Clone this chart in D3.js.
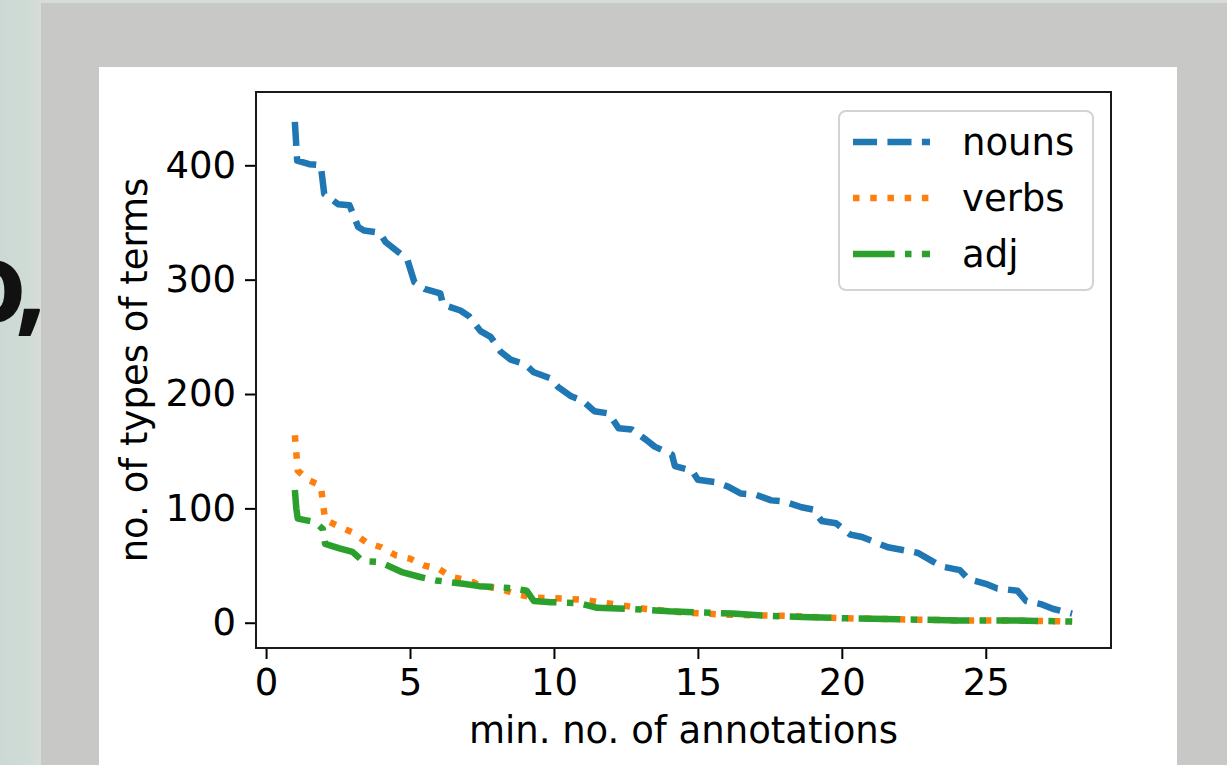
<!DOCTYPE html>
<html>
<head>
<meta charset="utf-8">
<script src="https://cdn.jsdelivr.net/npm/d3@7"></script>
<style>
  html, body { margin: 0; padding: 0; background: #c8c9c7; }
  svg { display: block; }
  text { font-family: "DejaVu Sans", sans-serif; }
</style>
</head>
<body>
<svg id="chart" width="1227" height="765"></svg>
<script>
// ------- Data -------
// each point: [min. no. of annotations, no. of types of terms]
const nounsPts = [
  [1.0, 438], [1.08, 404], [1.5, 401], [1.9, 400], [2.02, 375], [2.5, 366],
  [2.9, 365], [3.2, 346], [3.4, 343], [3.95, 341], [4.15, 333], [4.6, 324],
  [4.9, 318], [5.15, 298], [5.5, 292], [6.05, 288], [6.15, 278], [6.75, 273],
  [7.05, 268], [7.45, 255], [7.8, 250], [8.15, 237], [8.5, 230], [9.0, 226],
  [9.3, 219], [9.85, 214], [10.15, 206], [10.6, 198], [11.0, 194], [11.4, 185],
  [11.9, 183], [12.25, 170], [12.7, 169], [13.2, 160], [13.5, 154], [14.1, 147],
  [14.2, 137], [14.8, 133], [15.0, 125], [15.6, 123], [16.05, 119], [16.5, 113],
  [17.0, 112], [17.55, 107], [18.0, 106], [18.6, 101], [19.0, 99], [19.3, 89],
  [19.8, 87], [20.3, 77], [20.7, 75], [21.3, 69], [21.6, 66], [22.25, 63],
  [22.65, 61], [23.2, 53], [23.5, 49], [24.1, 46], [24.4, 38], [25.0, 34],
  [25.4, 30], [26.1, 28], [26.4, 19], [26.95, 16], [27.35, 12], [28.0, 8]
];

const verbsPts = [
  [1.0, 164], [1.1, 133], [1.45, 125], [1.9, 120], [2.05, 90], [2.55, 84],
  [3.0, 79], [3.5, 70], [4.0, 66], [4.5, 59], [5.0, 56], [5.5, 50],
  [6.0, 47], [6.45, 40], [7.05, 37], [7.5, 32], [8.1, 30], [8.7, 25],
  [9.3, 22], [10.4, 21], [11.0, 20], [11.6, 18], [12.4, 15], [13.2, 12],
  [14.5, 9], [16.0, 7], [18.0, 6], [20.0, 4], [22.0, 3], [24.0, 2],
  [26.0, 2], [28.0, 1]
];

const adjPts = [
  [1.0, 116], [1.05, 100], [1.1, 91], [1.7, 88], [1.97, 82], [2.05, 69],
  [2.55, 65], [3.0, 62], [3.35, 54], [3.95, 53], [4.75, 44], [5.35, 40],
  [5.9, 37], [6.85, 34], [7.4, 32], [8.1, 31], [8.6, 30], [9.05, 28],
  [9.3, 19], [9.9, 18], [10.9, 17], [11.5, 13], [12.75, 12], [14.0, 10],
  [15.1, 9], [16.2, 8], [17.5, 6], [18.6, 5], [20.0, 4], [22.0, 3],
  [24.0, 2], [26.0, 2], [28.0, 1]
];

const seriesNames = ["nouns", "verbs", "adj"];
const xTicks = [0, 5, 10, 15, 20, 25];
const yTicks = [0, 100, 200, 300, 400];

// ------- Layout -------
const W = 1227, H = 765;
const plot = { left: 256, right: 1111, top: 92, bottom: 648 };
const fontSize = 37;
const lw = 6.5;

const svg = d3.select("#chart");

// screenshot surroundings
const defs = svg.append("defs");
const grad = defs.append("linearGradient").attr("id", "strip")
  .attr("x1", "0%").attr("x2", "100%");
grad.append("stop").attr("offset", "0%").attr("stop-color", "#cbd9d4");
grad.append("stop").attr("offset", "70%").attr("stop-color", "#d0dbd6");
grad.append("stop").attr("offset", "100%").attr("stop-color", "#d8ddd8");

svg.append("rect").attr("width", W).attr("height", H).attr("fill", "#c8c9c7");
svg.append("rect").attr("width", W).attr("height", 3).attr("fill", "#d6dcd8");
svg.append("rect").attr("width", 41).attr("height", H).attr("fill", "url(#strip)");

// cut-off slide text at the left edge (one text element)
const slideText = svg.append("text")
  .attr("x", -43).attr("y", 322)
  .style("font-family", "'Noto Sans', sans-serif")
  .style("font-weight", "bold")
  .style("font-size", "112px")
  .attr("fill", "#111");
slideText.append("tspan").text("o");
slideText.append("tspan").attr("dx", -12).text(",");

// white figure panel
svg.append("rect")
  .attr("x", 99).attr("y", 67)
  .attr("width", 1177 - 99).attr("height", H - 67)
  .attr("fill", "#ffffff");

// ------- Scales -------
const x = d3.scaleLinear().domain([-0.35, 29.35]).range([plot.left, plot.right]);
const y = d3.scaleLinear().domain([-22.1, 464.1]).range([plot.bottom, plot.top]);

const g = svg.append("g");

// ------- Lines -------
const line = d3.line().x((d) => x(d[0])).y((d) => y(d[1]));

const styles = {
  nouns: { color: "#1f77b4", dash: [3.7 * lw, 1.6 * lw] },
  verbs: { color: "#ff7f0e", dash: [1 * lw, 1.65 * lw] },
  adj: { color: "#2ca02c", dash: [6.4 * lw, 1.6 * lw, 1 * lw, 1.6 * lw] },
};
const seriesData = { nouns: nounsPts, verbs: verbsPts, adj: adjPts };

seriesNames.forEach((name) => {
  g.append("path")
    .datum(seriesData[name])
    .attr("d", line)
    .attr("fill", "none")
    .attr("stroke", styles[name].color)
    .attr("stroke-width", lw)
    .attr("stroke-linejoin", "round")
    .attr("stroke-linecap", "butt")
    .attr("stroke-dasharray", styles[name].dash.join(","));
});

// ------- Axes -------
const xAxis = d3.axisBottom(x).tickValues(xTicks).tickSize(11).tickPadding(10).tickSizeOuter(0);
const yAxis = d3.axisLeft(y).tickValues(yTicks).tickSize(11).tickPadding(9).tickSizeOuter(0);

const xAxisG = svg.append("g")
  .attr("transform", `translate(0,${plot.bottom})`)
  .call(xAxis);
const yAxisG = svg.append("g")
  .attr("transform", `translate(${plot.left},0)`)
  .call(yAxis);

[xAxisG, yAxisG].forEach((ax) => {
  ax.select(".domain").remove();
  ax.selectAll(".tick line").attr("stroke", "#000").attr("stroke-width", 2);
  ax.selectAll(".tick text")
    .attr("fill", "#000")
    .style("font-size", fontSize + "px")
    .style("font-family", "'DejaVu Sans', sans-serif");
});

// frame
svg.append("rect")
  .attr("x", plot.left).attr("y", plot.top)
  .attr("width", plot.right - plot.left)
  .attr("height", plot.bottom - plot.top)
  .attr("fill", "none")
  .attr("stroke", "#1a1a1a")
  .attr("stroke-width", 2);

// axis labels
svg.append("text")
  .attr("x", (plot.left + plot.right) / 2)
  .attr("y", 743)
  .attr("text-anchor", "middle")
  .style("font-size", fontSize + "px")
  .attr("fill", "#000")
  .text("min. no. of annotations");

svg.append("text")
  .attr("transform", `translate(147,${(plot.top + plot.bottom) / 2}) rotate(-90)`)
  .attr("text-anchor", "middle")
  .style("font-size", fontSize + "px")
  .attr("fill", "#000")
  .text("no. of types of terms");

// ------- Legend -------
const legend = svg.append("g");
legend.append("rect")
  .attr("x", 839).attr("y", 111)
  .attr("width", 1093 - 839).attr("height", 290 - 111)
  .attr("rx", 7)
  .attr("fill", "#ffffff")
  .attr("stroke", "#d3d3d3")
  .attr("stroke-width", 2);

seriesNames.forEach((name, i) => {
  const ly = 142 + i * 56;
  legend.append("line")
    .attr("x1", 853).attr("x2", 930)
    .attr("y1", ly).attr("y2", ly)
    .attr("stroke", styles[name].color)
    .attr("stroke-width", lw)
    .attr("stroke-dasharray", styles[name].dash.join(","));
  legend.append("text")
    .attr("x", 962).attr("y", ly + 13)
    .style("font-size", fontSize + "px")
    .attr("fill", "#000")
    .text(name);
});
</script>
</body>
</html>
